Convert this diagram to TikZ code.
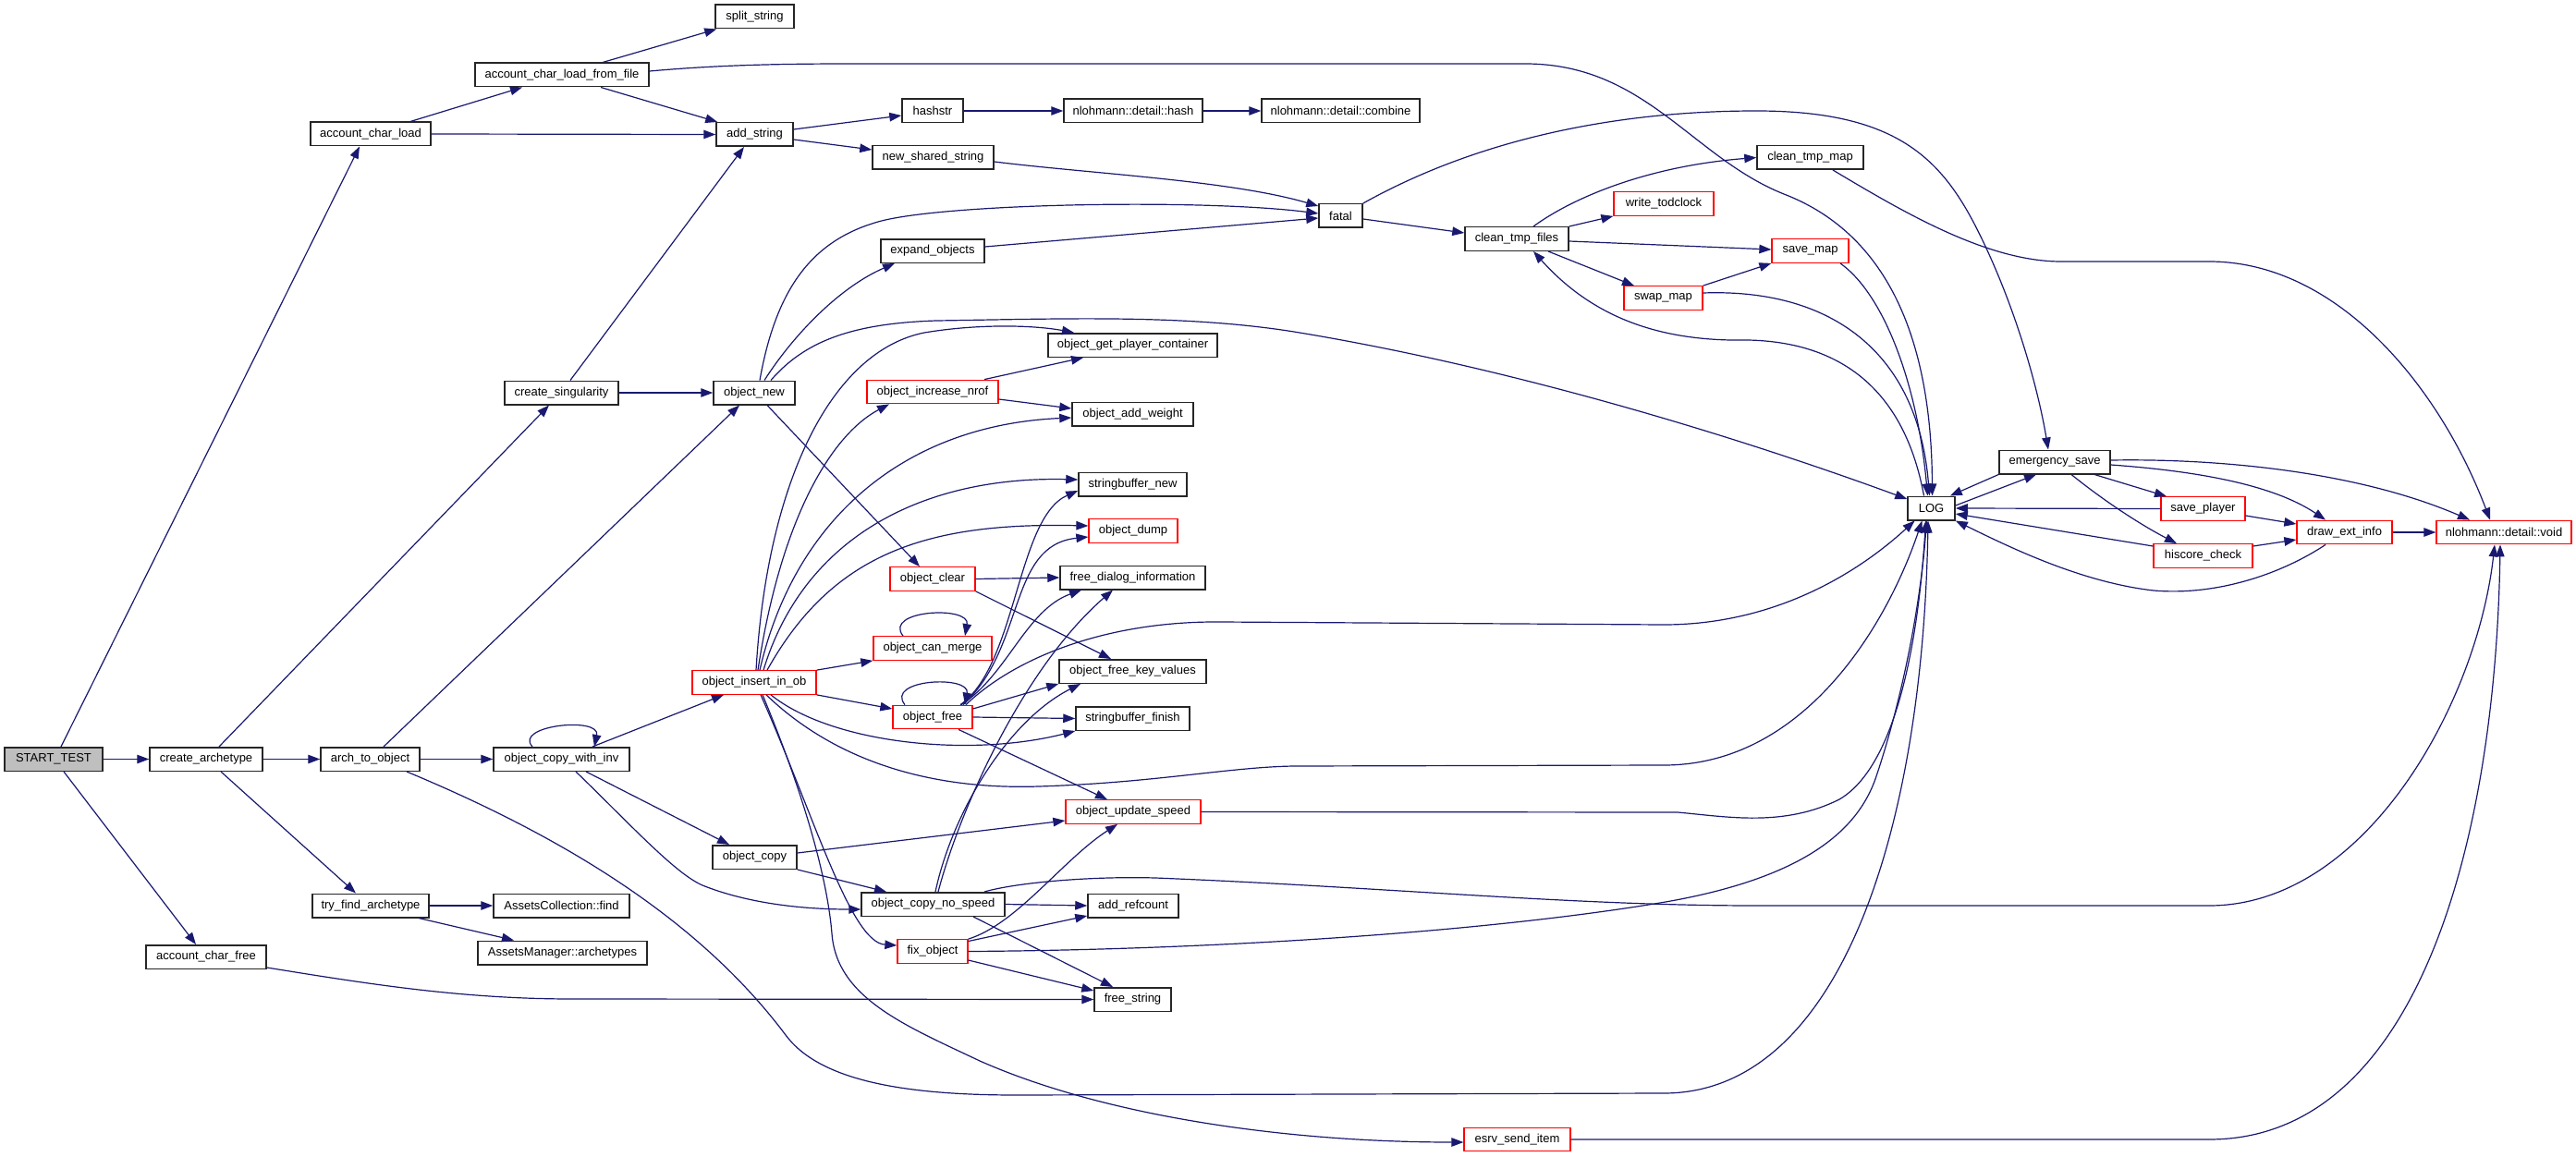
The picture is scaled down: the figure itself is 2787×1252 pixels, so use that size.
\documentclass[tikz,border=0pt]{standalone}
\usepackage{fontspec}
\setmainfont{Liberation Sans}
\usetikzlibrary{arrows.meta}
\definecolor{mblue}{HTML}{191970}
\definecolor{rootfill}{HTML}{BFBFBF}
\definecolor{redline}{HTML}{FF0000}
\begin{document}
\begin{tikzpicture}[x=1pt,y=-1pt,
  fn/.style={draw=black!85, line width=1.5pt, fill=white, rectangle, minimum height=25.5pt, inner sep=0pt, font=\fontsize{13pt}{15pt}\selectfont},
  fr/.style={fn, draw=redline, line width=1.3pt},
  froot/.style={fn, fill=rootfill},
  e/.style={draw=mblue, line width=1.2pt, -{Triangle[length=13pt,width=9.5pt]}}]
\fill[white] (0,0) rectangle (2787,1252);
\useasboundingbox (0,0) rectangle (2787,1252);
% nodes
\node[froot, minimum width=106pt] (st) at (58,821.5) {START\_TEST};
\node[fn, minimum width=122pt] (ca) at (223,821.5) {create\_archetype};
\node[fn, minimum width=107pt] (ato) at (400.5,821.5) {arch\_to\_object};
\node[fn, minimum width=147pt] (ocwi) at (607.5,821.5) {object\_copy\_with\_inv};
\node[fn, minimum width=126pt] (tfa) at (401,980) {try\_find\_archetype};
\node[fn, minimum width=147pt] (acf) at (607.5,980) {AssetsCollection::find};
\node[fn, minimum width=183pt] (ama) at (608.5,1031) {AssetsManager::archetypes};
\node[fn, minimum width=130pt] (acfree) at (223,1035.5) {account\_char\_free};
\node[fn, minimum width=130pt] (acl) at (401,145) {account\_char\_load};
\node[fn, minimum width=188pt] (aclf) at (608,81) {account\_char\_load\_from\_file};
\node[fn, minimum width=85pt] (ss) at (816.5,18) {split\_string};
\node[fn, minimum width=83pt] (as) at (816.5,145.5) {add\_string};
\node[fn, minimum width=123pt] (cs) at (607.5,425) {create\_singularity};
\node[fn, minimum width=88pt] (on) at (816,425) {object\_new};
\node[fn, minimum width=66pt] (hs) at (1009,120) {hashstr};
\node[fn, minimum width=150pt] (nh) at (1226,120) {nlohmann::detail::hash};
\node[fn, minimum width=171pt] (nc) at (1450.5,120) {nlohmann::detail::combine};
\node[fn, minimum width=131pt] (nss) at (1009.5,170.5) {new\_shared\_string};
\node[fn, minimum width=112pt] (eo) at (1009,271.5) {expand\_objects};
\node[fn, minimum width=47pt] (fa) at (1450.5,233.5) {fatal};
\node[fn, minimum width=183pt] (ogpc) at (1225.5,373.5) {object\_get\_player\_container};
\node[fr, minimum width=142pt] (oin) at (1009,424) {object\_increase\_nrof};
\node[fn, minimum width=131pt] (oaw) at (1225.5,448) {object\_add\_weight};
\node[fn, minimum width=117pt] (sbn) at (1225.5,524) {stringbuffer\_new};
\node[fr, minimum width=96pt] (od) at (1226,574.5) {object\_dump};
\node[fr, minimum width=92pt] (oc) at (1009,626.5) {object\_clear};
\node[fn, minimum width=157pt] (fdi) at (1225.5,625) {free\_dialog\_information};
\node[fr, minimum width=128pt] (ocm) at (1009,701.5) {object\_can\_merge};
\node[fr, minimum width=134pt] (oiio) at (816,738.5) {object\_insert\_in\_ob};
\node[fn, minimum width=159pt] (ofkv) at (1225.5,726.5) {object\_free\_key\_values};
\node[fr, minimum width=86pt] (of) at (1009,776) {object\_free};
\node[fn, minimum width=123pt] (sbf) at (1225.5,777.5) {stringbuffer\_finish};
\node[fr, minimum width=146pt] (ous) at (1226,878.5) {object\_update\_speed};
\node[fn, minimum width=91pt] (oco) at (816.5,927.5) {object\_copy};
\node[fn, minimum width=155pt] (ocns) at (1009.5,978.5) {object\_copy\_no\_speed};
\node[fn, minimum width=98pt] (arc) at (1226,980) {add\_refcount};
\node[fr, minimum width=76pt] (fo) at (1009,1029.5) {fix\_object};
\node[fn, minimum width=83pt] (fs) at (1225.5,1081.5) {free\_string};
\node[fr, minimum width=115pt] (esi) at (1641.5,1233) {esrv\_send\_item};
\node[fn, minimum width=112pt] (ctf) at (1641,258.5) {clean\_tmp\_files};
\node[fn, minimum width=115pt] (ctm) at (1958.5,170.5) {clean\_tmp\_map};
\node[fr, minimum width=108pt] (wt) at (1800,220.5) {write\_todclock};
\node[fr, minimum width=83pt] (sm) at (1958.5,271.5) {save\_map};
\node[fr, minimum width=85pt] (swm) at (1799.5,322.5) {swap\_map};
\node[fn, minimum width=51pt] (log) at (2089.5,550) {LOG};
\node[fn, minimum width=120pt] (es) at (2223,500) {emergency\_save};
\node[fr, minimum width=91pt] (sp) at (2383.5,550.5) {save\_player};
\node[fr, minimum width=103pt] (dei) at (2536.5,576) {draw\_ext\_info};
\node[fr, minimum width=146pt] (nv) at (2709,576) {nlohmann::detail::void};
\node[fr, minimum width=107pt] (hc) at (2383.5,601.5) {hiscore\_check};
% edges
\draw[e] ([xshift=8pt]st.north) -- ([xshift=-12pt]acl.south);
\draw[e] (st.east) -- (ca.west);
\draw[e] ([xshift=11pt]st.south) -- ([xshift=-11pt]acfree.north);
\draw[e] ([xshift=14pt]ca.north) -- ([xshift=-13.5pt]cs.south);
\draw[e] (ca.east) -- (ato.west);
\draw[e] ([xshift=16pt]ca.south) -- ([xshift=-16pt]tfa.north);
\draw[e] ([xshift=14.5pt]ato.north) -- ([xshift=-16pt]on.south);
\draw[e] (ato.east) -- (ocwi.west);
\draw[e] ([xshift=39.5pt]ato.south) .. controls (620,910) and (760,1000) .. (850,1120) .. controls (887,1170) and (980,1185) .. (1100,1185) -- (1800,1183) .. controls (1990,1183) and (2080,900) .. ([xshift=-3.5pt]log.south);
\draw[e] ([xshift=-31.5pt]ocwi.north) .. controls (555,785) and (650,775) .. ([xshift=35.5pt]ocwi.north);
\draw[e] ([xshift=33.5pt]ocwi.north) -- ([xshift=-33pt]oiio.south);
\draw[e] ([xshift=26.5pt]ocwi.south) -- ([xshift=-27.5pt]oco.north);
\draw[e] ([xshift=15.5pt]ocwi.south) .. controls (680,890) and (730,945) .. (760,958) .. controls (810,978) and (870,984) .. ([yshift=-5.5pt]ocns.west);
\draw[e] (tfa.east) -- (acf.west);
\draw[e] ([xshift=52pt]tfa.south) -- ([xshift=-52.5pt]ama.north);
\draw[e] ([yshift=-11.5pt]acfree.east) .. controls (400,1065) and (500,1081) .. (620,1081) -- (fs.west);
\draw[e] ([xshift=43pt]acl.north) -- ([xshift=-43pt]aclf.south);
\draw[e] (acl.east) -- (as.west);
\draw[e] ([xshift=44pt]aclf.north) -- ([xshift=2pt]ss.south west);
\draw[e] ([xshift=42pt]aclf.south) -- ([xshift=2pt]as.north west);
\draw[e] ([yshift=4pt]aclf.east) .. controls (780,70) and (850,69) .. (923,69) -- (1650,69) .. controls (1780,69) and (1830,170) .. (1930,210) .. controls (2060,260) and (2090,400) .. ([xshift=1pt]log.north);
\draw[e] ([xshift=9.5pt]cs.north) -- ([xshift=-11.5pt]as.south);
\draw[e] (cs.east) -- (on.west);
\draw[e] ([yshift=5.5pt]as.east) -- ([yshift=-5pt]hs.west);
\draw[e] ([yshift=-5.5pt]as.east) -- ([yshift=8.5pt]nss.west);
\draw[e] (hs.east) -- (nh.west);
\draw[e] (nh.east) -- (nc.west);
\draw[e] ([yshift=-4.5pt]nss.east) .. controls (1180,188) and (1330,195) .. ([yshift=10.5pt]fa.west);
\draw[e] ([xshift=6pt]on.north) .. controls (840,310) and (880,260) .. (950,240) .. controls (1020,220) and (1300,215) .. ([yshift=2.5pt]fa.west);
\draw[e] ([yshift=4.5pt]eo.east) -- ([yshift=-2.5pt]fa.west);
\draw[e] ([xshift=11pt]on.north) .. controls (860,360) and (910,310) .. ([xshift=-41pt]eo.south);
\draw[e] ([xshift=18pt]on.north) .. controls (870,370) and (920,350) .. (1013,347) .. controls (1150,345) and (1280,340) .. (1400,359) .. controls (1650,400) and (1900,480) .. ([yshift=10pt]log.west);
\draw[e] ([xshift=14pt]on.south) -- ([xshift=-14pt]oc.north);
\draw[e] ([xshift=2pt]oiio.north) .. controls (830,520) and (900,380) .. (1000,360) .. controls (1060,350) and (1120,352) .. ([xshift=-63.5pt]ogpc.north);
\draw[e] ([xshift=4pt]oiio.north) .. controls (845,560) and (900,470) .. ([xshift=-47pt]oin.south);
\draw[e] ([xshift=56pt]oin.north) -- ([xshift=-53.5pt]ogpc.south);
\draw[e] ([yshift=-8pt]oin.east) -- ([yshift=6pt]oaw.west);
\draw[e] ([xshift=6pt]oiio.north) .. controls (860,560) and (980,460) .. ([yshift=-4pt]oaw.west);
\draw[e] ([xshift=10pt]oiio.north) .. controls (870,580) and (1000,515) .. ([yshift=5pt]sbn.west);
\draw[e] ([xshift=30pt]of.north) .. controls (1100,720) and (1100,560) .. ([yshift=-7pt]sbn.west);
\draw[e] ([xshift=14pt]oiio.north) .. controls (900,600) and (1000,565) .. ([yshift=5.5pt]od.west);
\draw[e] ([xshift=33pt]of.north) .. controls (1110,700) and (1090,590) .. ([yshift=-6.5pt]od.west);
\draw[e] (oc.east) -- (fdi.west);
\draw[e] (oc.south east) -- ([xshift=-23.5pt]ofkv.north);
\draw[e] (oiio.north east) -- (ocm.south west);
\draw[e] ([xshift=-32pt]ocm.north) .. controls (955,660) and (1050,655) .. ([xshift=35pt]ocm.north);
\draw[e] (oiio.south east) -- ([yshift=9pt]of.west);
\draw[e] ([xshift=-30pt]of.north) .. controls (957,735) and (1050,730) .. ([xshift=35pt]of.north);
\draw[e] ([xshift=31pt]of.north) .. controls (1090,730) and (1110,660) .. ([xshift=-55.5pt]fdi.south);
\draw[e] ([yshift=9pt]of.east) -- (ofkv.south west);
\draw[e] (of.east) -- (sbf.west);
\draw[e] ([xshift=28pt]of.south) -- ([xshift=-28pt]ous.north);
\draw[e] ([xshift=36pt]of.north) .. controls (1100,710) and (1200,672) .. (1320,673) -- (1800,676) .. controls (1920,676) and (2010,620) .. ([xshift=-18pt]log.south);
\draw[e] ([xshift=18pt]oiio.south) .. controls (900,805) and (1050,820) .. (sbf.south west);
\draw[e] ([xshift=13pt]oiio.south) .. controls (900,820) and (1000,855) .. (1124,851) .. controls (1250,847) and (1330,830) .. (1400,829) -- (1800,828) .. controls (1950,828) and (2040,680) .. ([xshift=-10pt]log.south);
\draw[e] (ous.east) -- (1815,879) .. controls (1870,884) and (1930,895) .. (1990,865) .. controls (2050,830) and (2075,700) .. ([xshift=-6pt]log.south);
\draw[e] ([yshift=4.5pt]oco.east) -- ([yshift=-9.5pt]ous.west);
\draw[e] (oco.south east) -- ([xshift=-50.5pt]ocns.north);
\draw[e] ([xshift=5.5pt]ocns.north) .. controls (1040,870) and (1110,720) .. ([xshift=-21.5pt]fdi.south);
\draw[e] ([xshift=2.5pt]ocns.north) .. controls (1030,880) and (1090,780) .. ([xshift=-56.5pt]ofkv.south);
\draw[e] (ocns.east) -- (arc.west);
\draw[e] ([xshift=43.5pt]ocns.south) -- ([xshift=-21.5pt]fs.north);
\draw[e] ([xshift=55.5pt]ocns.north) .. controls (1100,955) and (1180,948) .. (1250,950) .. controls (1500,960) and (1700,980) .. (1900,980) -- (2390,980) .. controls (2560,980) and (2680,760) .. ([xshift=-10pt]nv.south);
\draw[e] (fo.north east) .. controls (1100,1000) and (1150,930) .. ([xshift=-17pt]ous.south);
\draw[e] ([yshift=11pt]fo.east) -- ([yshift=-11pt]arc.west);
\draw[e] ([yshift=-9.5pt]fo.east) -- ([yshift=9.5pt]fs.west);
\draw[e] (fo.east) .. controls (1300,1028) and (1600,1010) .. (1802,976) .. controls (1950,950) and (2010,900) .. (2030,840) .. controls (2060,750) and (2078,650) .. ([xshift=-5pt]log.south);
\draw[e] ([xshift=7pt]oiio.south) .. controls (880,880) and (920,1020) .. ([yshift=6.5pt]fo.west);
\draw[e] ([xshift=9pt]oiio.south) .. controls (870,860) and (895,950) .. (900,1010) .. controls (905,1080) and (980,1110) .. (1060,1148) .. controls (1200,1210) and (1400,1236) .. ([yshift=-3pt]esi.west);
\draw[e] (esi.east) -- (2390,1233) .. controls (2620,1233) and (2700,900) .. ([xshift=-4pt]nv.south);
\draw[e] ([yshift=-3.5pt]fa.east) -- ([yshift=6.5pt]ctf.west);
\draw[e] (fa.north east) .. controls (1600,150) and (1750,120) .. (1900,120) .. controls (2050,120) and (2100,170) .. (2140,250) .. controls (2180,330) and (2205,420) .. ([xshift=-7pt]es.north);
\draw[e] ([xshift=18pt]ctf.north) .. controls (1700,215) and (1780,180) .. (ctm.west);
\draw[e] (ctf.north east) -- (wt.south west);
\draw[e] ([yshift=-2.5pt]ctf.east) -- ([yshift=1.5pt]sm.west);
\draw[e] ([xshift=34pt]ctf.south) -- ([xshift=-31.5pt]swm.north);
\draw[e] (swm.north east) -- (sm.south west);
\draw[e] ([yshift=5.5pt]swm.east) .. controls (1980,312) and (2075,380) .. ([xshift=-2pt]log.north);
\draw[e] ([xshift=32.5pt]sm.south) .. controls (2040,320) and (2075,420) .. ([xshift=-4pt]log.north);
\draw[e] ([xshift=-8pt]log.north) .. controls (2060,420) and (1990,370) .. (1891,368) .. controls (1790,370) and (1720,340) .. ([xshift=18pt]ctf.south);
\draw[e] ([xshift=24.5pt]ctm.south) .. controls (2060,230) and (2150,283) .. (2230,283) -- (2390,283) .. controls (2530,283) and (2640,420) .. ([xshift=-15pt]nv.north);
\draw[e] (es.south west) -- ([xshift=-6pt]log.north east);
\draw[e] ([yshift=3pt]log.east) -- ([xshift=-20pt]es.south);
\draw[e] ([xshift=43pt]es.south) -- ([xshift=-39.5pt]sp.north);
\draw[e] ([xshift=18pt]es.south) .. controls (2280,545) and (2320,570) .. ([xshift=-28.5pt]hc.north);
\draw[e] ([yshift=-3pt]es.east) .. controls (2380,510) and (2460,525) .. ([xshift=-20.5pt]dei.north);
\draw[e] ([yshift=2pt]es.east) .. controls (2400,496) and (2550,510) .. ([xshift=-37pt]nv.north);
\draw[e] (sp.west) -- (log.east);
\draw[e] ([yshift=-7.5pt]sp.east) -- ([yshift=9pt]dei.west);
\draw[e] ([yshift=10.5pt]hc.west) -- ([yshift=-6pt]log.east);
\draw[e] ([yshift=10.5pt]hc.east) -- ([yshift=-8pt]dei.west);
\draw[e] ([xshift=-20.5pt]dei.south) .. controls (2470,620) and (2400,645) .. (2330,639) .. controls (2250,630) and (2170,590) .. (log.south east);
\draw[e] (dei.east) -- (nv.west);
\end{tikzpicture}
\end{document}
